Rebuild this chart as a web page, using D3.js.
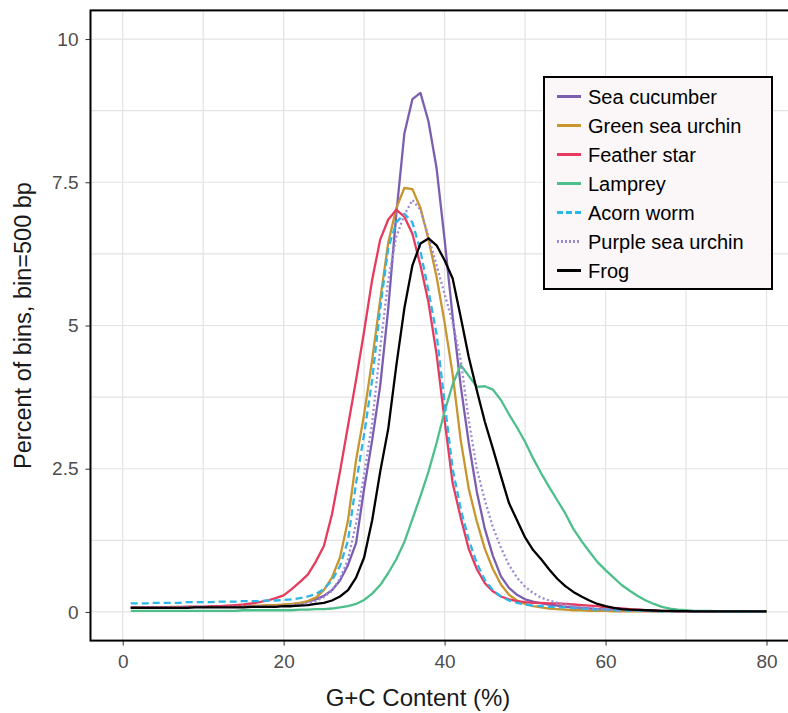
<!DOCTYPE html>
<html>
<head>
<meta charset="utf-8">
<script src="https://cdn.jsdelivr.net/npm/d3@7"></script>
<style>
  html, body { margin: 0; padding: 0; background: #ffffff; }
  svg { display: block; }
  text { font-family: "Liberation Sans", Arial, sans-serif; }
</style>
</head>
<body>
<svg id="chart" width="788" height="713"></svg>
<script>
// ---- data ----
const gcContent = [1,2,3,4,5,6,7,8,9,10,11,12,13,14,15,16,17,18,19,20,
  21,22,23,24,25,26,27,28,29,30,31,32,33,34,35,36,37,38,39,40,
  41,42,43,44,45,46,47,48,49,50,51,52,53,54,55,56,57,58,59,60,
  61,62,63,64,65,66,67,68,69,70,71,72,73,74,75,76,77,78,79,80];

const seaCucumber = [0.08,0.08,0.08,0.08,0.08,0.08,0.08,0.09,0.09,0.09,
  0.09,0.09,0.09,0.10,0.10,0.10,0.10,0.11,0.11,0.12,
  0.13,0.15,0.18,0.22,0.28,0.38,0.55,0.82,1.20,2.15,
  3.00,3.95,5.30,6.95,8.35,8.95,9.06,8.56,7.75,6.50,
  5.15,3.95,2.95,2.10,1.45,0.98,0.62,0.42,0.30,0.22,
  0.18,0.15,0.13,0.11,0.09,0.08,0.07,0.06,0.05,0.04,
  0.035,0.03,0.025,0.02,0.02,0.015,0.015,0.015,0.01,0.01,
  0.01,0.01,0.01,0.01,0.01,0.01,0.01,0.01,0.01,0.01];

const greenSeaUrchin = [0.08,0.08,0.08,0.08,0.08,0.09,0.09,0.09,0.09,0.09,
  0.09,0.10,0.10,0.10,0.10,0.11,0.11,0.12,0.12,0.13,
  0.14,0.16,0.19,0.25,0.38,0.60,0.95,1.60,2.65,3.45,
  4.40,5.45,6.45,7.05,7.40,7.38,7.05,6.50,5.85,5.05,
  4.15,3.00,2.15,1.58,1.10,0.75,0.48,0.30,0.20,0.14,
  0.10,0.08,0.06,0.05,0.04,0.03,0.03,0.02,0.02,0.02,
  0.01,0.01,0.01,0.01,0.01,0.01,0.01,0.01,0.01,0.01,
  0.01,0.01,0.01,0.01,0.01,0.01,0.01,0.01,0.01,0.01];

const featherStar = [0.08,0.08,0.08,0.08,0.08,0.08,0.08,0.09,0.09,0.09,
  0.10,0.10,0.11,0.12,0.13,0.15,0.17,0.20,0.24,0.29,
  0.40,0.52,0.65,0.88,1.15,1.70,2.45,3.25,4.05,4.90,
  5.80,6.50,6.85,7.02,6.90,6.60,6.05,5.40,4.50,3.35,
  2.25,1.65,1.10,0.75,0.50,0.36,0.27,0.22,0.19,0.17,
  0.16,0.16,0.15,0.15,0.14,0.13,0.12,0.11,0.10,0.08,
  0.07,0.06,0.05,0.04,0.03,0.025,0.02,0.015,0.01,0.01,
  0.01,0.01,0.01,0.01,0.01,0.01,0.01,0.01,0.01,0.01];

const lamprey = [0.02,0.02,0.02,0.02,0.02,0.02,0.02,0.02,0.02,0.02,
  0.02,0.02,0.02,0.02,0.03,0.03,0.03,0.03,0.03,0.03,
  0.03,0.04,0.04,0.05,0.05,0.06,0.08,0.10,0.14,0.21,
  0.32,0.47,0.68,0.92,1.22,1.62,2.02,2.45,2.95,3.50,
  3.97,4.31,4.12,3.93,3.94,3.88,3.70,3.45,3.22,2.97,
  2.68,2.42,2.18,1.95,1.72,1.45,1.24,1.05,0.87,0.73,
  0.60,0.47,0.37,0.28,0.20,0.14,0.09,0.06,0.04,0.03,
  0.02,0.02,0.02,0.01,0.01,0.01,0.01,0.01,0.01,0.01];

const acornWorm = [0.15,0.15,0.15,0.16,0.16,0.16,0.16,0.17,0.17,0.17,
  0.17,0.18,0.18,0.18,0.19,0.19,0.19,0.20,0.20,0.21,
  0.22,0.24,0.27,0.31,0.40,0.55,0.80,1.25,2.25,3.10,
  4.05,5.30,6.35,6.80,6.95,6.80,6.30,5.60,4.85,3.65,
  2.50,1.80,1.26,0.85,0.56,0.38,0.27,0.20,0.16,0.13,
  0.11,0.10,0.09,0.08,0.08,0.07,0.06,0.05,0.04,0.04,
  0.03,0.03,0.02,0.02,0.02,0.015,0.01,0.01,0.01,0.01,
  0.01,0.01,0.01,0.01,0.01,0.01,0.01,0.01,0.01,0.01];

const purpleSeaUrchin = [0.08,0.08,0.08,0.08,0.08,0.08,0.09,0.09,0.09,0.09,
  0.09,0.09,0.09,0.09,0.10,0.10,0.10,0.10,0.10,0.11,
  0.12,0.13,0.15,0.19,0.26,0.37,0.58,0.92,1.55,2.40,
  3.30,4.60,5.80,6.55,6.93,7.19,7.02,6.55,6.05,5.55,
  5.05,4.40,3.35,2.50,1.95,1.48,1.12,0.82,0.60,0.44,
  0.33,0.25,0.20,0.16,0.13,0.10,0.08,0.07,0.05,0.04,
  0.035,0.03,0.025,0.02,0.02,0.015,0.01,0.01,0.01,0.01,
  0.01,0.01,0.01,0.01,0.01,0.01,0.01,0.01,0.01,0.01];

const frog = [0.07,0.07,0.07,0.07,0.07,0.07,0.07,0.07,0.08,0.08,
  0.08,0.08,0.08,0.08,0.08,0.09,0.09,0.09,0.09,0.10,
  0.10,0.11,0.12,0.14,0.16,0.20,0.27,0.38,0.60,0.95,
  1.60,2.45,3.20,4.30,5.30,6.05,6.43,6.52,6.40,6.14,
  5.82,5.15,4.45,3.87,3.32,2.85,2.37,1.90,1.60,1.30,
  1.08,0.92,0.74,0.58,0.45,0.35,0.27,0.20,0.14,0.10,
  0.07,0.05,0.04,0.035,0.03,0.025,0.02,0.02,0.015,0.015,
  0.01,0.01,0.01,0.01,0.01,0.01,0.01,0.01,0.01,0.01];

const seriesNames = ["Sea cucumber","Green sea urchin","Feather star","Lamprey","Acorn worm","Purple sea urchin","Frog"];
const seriesValues = [seaCucumber, greenSeaUrchin, featherStar, lamprey, acornWorm, purpleSeaUrchin, frog];
const seriesColors = ["#7c5eb1","#c8952e","#e63a5e","#4dbf8b","#2ab6e8","#9a89d4","#000000"];
const seriesDash = [null, null, null, null, "7,4", "2,2.6", null];

const xTicks = [0, 20, 40, 60, 80];
const xMinor = [10, 30, 50, 70];
const yTicks = [0, 2.5, 5, 7.5, 10];
const yTickLabels = ["0", "2.5", "5", "7.5", "10"];
const yMinor = [1.25, 3.75, 6.25, 8.75];

const xTitle = "G+C Content (%)";
const yTitle = "Percent of bins, bin=500 bp";

// ---- layout ----
const svg = d3.select("#chart");
const x = d3.scaleLinear().domain([-4, 84]).range([90.5, 798.7]);
const y = d3.scaleLinear().domain([-0.5, 10.5]).range([640.6, 10.4]);
const pLeft = x(-4), pRight = x(84), pTop = y(10.5), pBottom = y(-0.5);

const gridColor = "#e3e3e3";
const grid = svg.append("g");
[...xMinor, ...xTicks].forEach(v => {
  grid.append("line").attr("x1", x(v)).attr("x2", x(v)).attr("y1", pTop).attr("y2", pBottom)
    .attr("stroke", gridColor).attr("stroke-width", 1.2);
});
[...yMinor, ...yTicks].forEach(v => {
  grid.append("line").attr("x1", pLeft).attr("x2", pRight).attr("y1", y(v)).attr("y2", y(v))
    .attr("stroke", gridColor).attr("stroke-width", 1.2);
});

// axes
const xAxis = svg.append("g").attr("transform", `translate(0,${pBottom})`)
  .call(d3.axisBottom(x).tickValues(xTicks).tickSize(5).tickPadding(9).tickFormat(d3.format("d")));
const yAxis = svg.append("g").attr("transform", `translate(${pLeft},0)`)
  .call(d3.axisLeft(y).tickValues(yTicks).tickSize(5).tickPadding(7).tickFormat((d, i) => yTickLabels[i]));
[xAxis, yAxis].forEach(a => {
  a.select(".domain").remove();
  a.selectAll(".tick line").attr("stroke", "#333333").attr("stroke-width", 1);
  a.selectAll(".tick text").attr("fill", "#4d4d4d").style("font-size", "19px")
    .style("font-family", '"Liberation Sans", Arial, sans-serif');
});

// lines
const plot = svg.append("g");
const line = d3.line().x((d, i) => x(gcContent[i])).y(d => y(d));
seriesValues.forEach((vals, k) => {
  const p = plot.append("path").datum(vals).attr("d", line)
    .attr("fill", "none").attr("stroke", seriesColors[k])
    .attr("stroke-width", 2.3).attr("stroke-linejoin", "round");
  if (seriesDash[k]) p.attr("stroke-dasharray", seriesDash[k]);
});

// panel border
svg.append("rect").attr("x", pLeft).attr("y", pTop).attr("width", pRight - pLeft).attr("height", pBottom - pTop)
  .attr("fill", "none").attr("stroke", "#000").attr("stroke-width", 2);

// titles
svg.append("text").attr("x", 418).attr("y", 706).attr("text-anchor", "middle")
  .attr("fill", "#1a1a1a").style("font-size", "24px").text(xTitle);
svg.append("text").attr("transform", `translate(31,${(pTop + pBottom) / 2}) rotate(-90)`)
  .attr("text-anchor", "middle").attr("fill", "#1a1a1a").style("font-size", "23.5px").text(yTitle);

// legend
const lg = svg.append("g").attr("transform", "translate(544,77)");
lg.append("rect").attr("x", 0).attr("y", 0).attr("width", 228).attr("height", 212)
  .attr("fill", "#fbf6f8").attr("stroke", "#000").attr("stroke-width", 2);
seriesNames.forEach((name, k) => {
  const cy = 19.5 + k * 29;
  const l = lg.append("line").attr("x1", 13).attr("x2", 37).attr("y1", cy).attr("y2", cy)
    .attr("stroke", seriesColors[k]).attr("stroke-width", 3);
  if (seriesDash[k]) l.attr("stroke-dasharray", k === 4 ? "6,3" : "2,2");
  lg.append("text").attr("x", 44).attr("y", cy).attr("dy", "0.35em")
    .attr("fill", "#000").style("font-size", "20px").text(name);
});
</script>
</body>
</html>
